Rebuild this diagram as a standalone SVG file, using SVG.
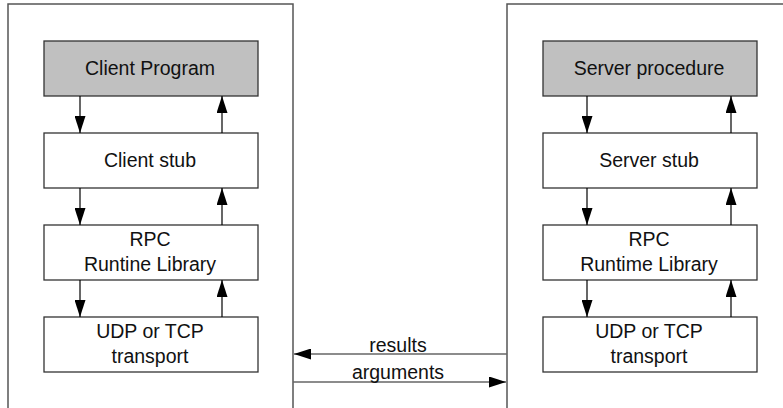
<svg xmlns="http://www.w3.org/2000/svg" width="783" height="408" viewBox="0 0 783 408">
<defs>
<style>
.outer{fill:none;stroke:#555;stroke-width:1.5}
.box{fill:#fff;stroke:#333;stroke-width:1.3}
.gray{fill:#c0c0c0}
.t{font-family:"Liberation Sans",Arial,sans-serif;font-size:19.5px;fill:#111;text-anchor:middle}
.c{stroke:#000;stroke-width:1.2;fill:none}
.h{stroke:#666;stroke-width:1.5;fill:none}
</style>
<marker id="ah" markerWidth="17" markerHeight="11" refX="17" refY="5.5" orient="auto" markerUnits="userSpaceOnUse">
<path d="M0,0 L17,5.5 L0,11 Z" fill="#000"/>
</marker>
</defs>
<rect width="783" height="408" fill="#fff"/>
<g id="client-machine"><path class="outer" d="M8,412 V4 H293 V412"/></g>
<g id="server-machine"><path class="outer" d="M507,412 V4 H790"/></g>

<g id="client-program"><rect class="box gray" x="44" y="41" width="214" height="55"/><text class="t" x="150" y="75">Client Program</text></g>
<g id="client-stub"><rect class="box" x="44" y="133" width="214" height="55"/><text class="t" x="150" y="167">Client stub</text></g>
<g id="client-rpc"><rect class="box" x="44" y="225" width="214" height="55"/><text class="t" x="150" y="246">RPC</text><text class="t" x="150" y="271">Runtine Library</text></g>
<g id="client-transport"><rect class="box" x="44" y="317" width="214" height="55"/><text class="t" x="150" y="338">UDP or TCP</text><text class="t" x="150" y="363">transport</text></g>

<g id="server-procedure"><rect class="box gray" x="543" y="41" width="214" height="55"/><text class="t" x="649" y="75">Server procedure</text></g>
<g id="server-stub"><rect class="box" x="543" y="133" width="214" height="55"/><text class="t" x="649" y="167">Server stub</text></g>
<g id="server-rpc"><rect class="box" x="543" y="225" width="214" height="55"/><text class="t" x="649" y="246">RPC</text><text class="t" x="649" y="271">Runtime Library</text></g>
<g id="server-transport"><rect class="box" x="543" y="317" width="214" height="55"/><text class="t" x="649" y="338">UDP or TCP</text><text class="t" x="649" y="363">transport</text></g>

<g id="connectors">
<line class="c" x1="80" y1="96" x2="80" y2="133" marker-end="url(#ah)"/>
<line class="c" x1="80" y1="188" x2="80" y2="225" marker-end="url(#ah)"/>
<line class="c" x1="80" y1="280" x2="80" y2="317" marker-end="url(#ah)"/>
<line class="c" x1="222" y1="133" x2="222" y2="96" marker-end="url(#ah)"/>
<line class="c" x1="222" y1="225" x2="222" y2="188" marker-end="url(#ah)"/>
<line class="c" x1="222" y1="317" x2="222" y2="280" marker-end="url(#ah)"/>
<line class="c" x1="587" y1="96" x2="587" y2="133" marker-end="url(#ah)"/>
<line class="c" x1="587" y1="188" x2="587" y2="225" marker-end="url(#ah)"/>
<line class="c" x1="587" y1="280" x2="587" y2="317" marker-end="url(#ah)"/>
<line class="c" x1="731" y1="133" x2="731" y2="96" marker-end="url(#ah)"/>
<line class="c" x1="731" y1="225" x2="731" y2="188" marker-end="url(#ah)"/>
<line class="c" x1="731" y1="317" x2="731" y2="280" marker-end="url(#ah)"/>
<line class="h" x1="507" y1="354" x2="294" y2="354" marker-end="url(#ah)"/>
<line class="h" x1="293" y1="382" x2="506" y2="382" marker-end="url(#ah)"/>
<text class="t" x="398" y="352">results</text>
<text class="t" x="398" y="379">arguments</text>
</g>
</svg>
